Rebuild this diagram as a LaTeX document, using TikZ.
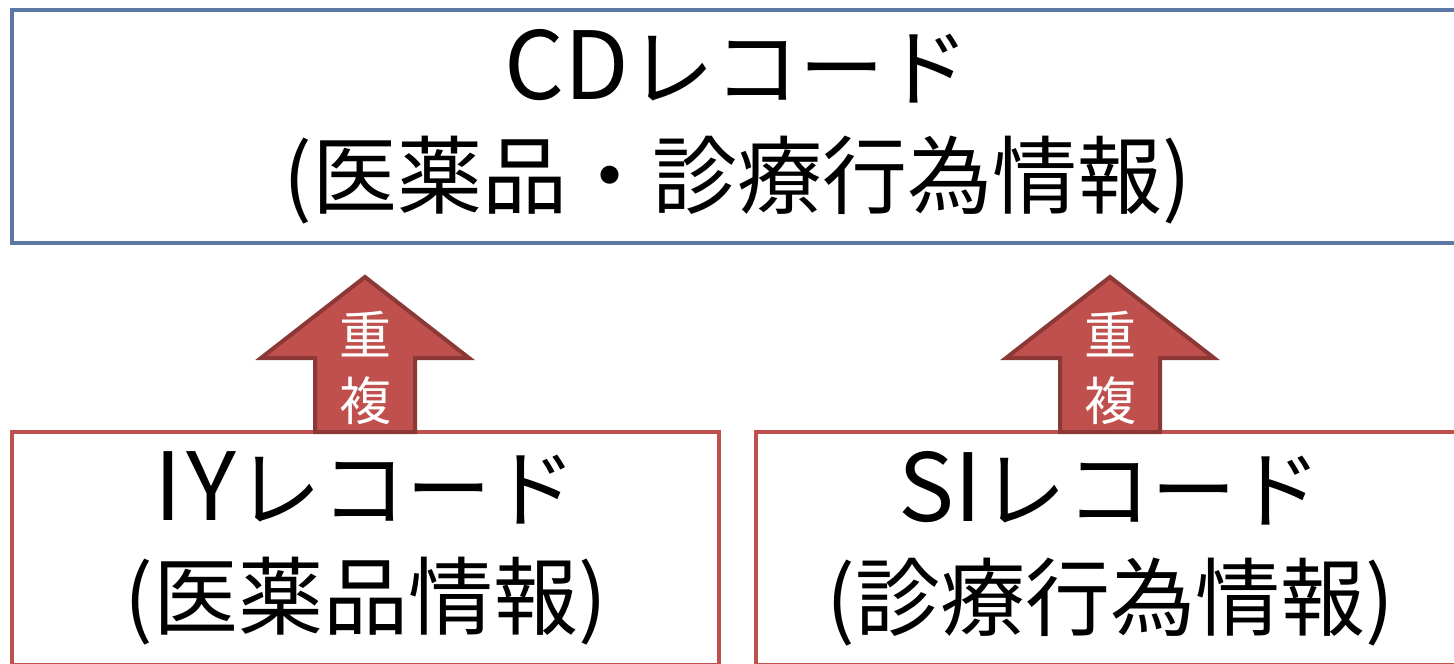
\documentclass[tikz,border=0pt]{standalone}
\usepackage{fontspec}
\setmainfont{Noto Sans CJK JP}
\definecolor{topline}{HTML}{5B78A6}
\definecolor{boxred}{HTML}{C0504D}
\definecolor{arrowedge}{HTML}{8C3836}
\newcommand{\latinbig}[1]{{\fontsize{94}{108}\selectfont #1}}
\begin{document}
\begin{tikzpicture}[x=1pt,y=-1pt,
  bigbox/.style={draw, line width=4.5pt, inner sep=0pt, align=center,
    font=\fontsize{85}{108}\selectfont},
  topbox/.style={bigbox, draw=topline},
  redbox/.style={bigbox, draw=boxred},
  uparrow/.style={fill=boxred, draw=arrowedge, line width=4pt, line join=miter},
  arrowtext/.style={text=white, align=center, inner sep=0pt,
    font=\fontsize{52}{66}\selectfont}]
\useasboundingbox (0,0) rectangle (1454,664);
\clip (0,0) rectangle (1454,664);
\node[topbox, minimum width=1450pt, minimum height=233pt] (cd) at (737,126.5)
  {\latinbig{CD}レコード\\(医薬品・診療行為情報)};
\node[redbox, minimum width=707pt, minimum height=233pt] (iy) at (365.5,548.5)
  {\latinbig{I\kern4pt Y}レコード\\(医薬品情報)};
\node[redbox, minimum width=708pt, minimum height=233pt] (si) at (1110,548.5)
  {\latinbig{SI}レコード\\(診療行為情報)};
% arrows
\foreach \n/\cx in {iy/365, si/1110}{
  \draw[uparrow] (\cx-50,432) -- (\cx-50,358) -- (\cx-104,358) -- (\cx,277)
    -- (\cx+104,358) -- (\cx+50,358) -- (\cx+50,432) -- cycle;
}
\node[arrowtext] (d1) at (365,368) {重\\複};
\node[arrowtext] (d2) at (1110,368) {重\\複};
\end{tikzpicture}
\end{document}
